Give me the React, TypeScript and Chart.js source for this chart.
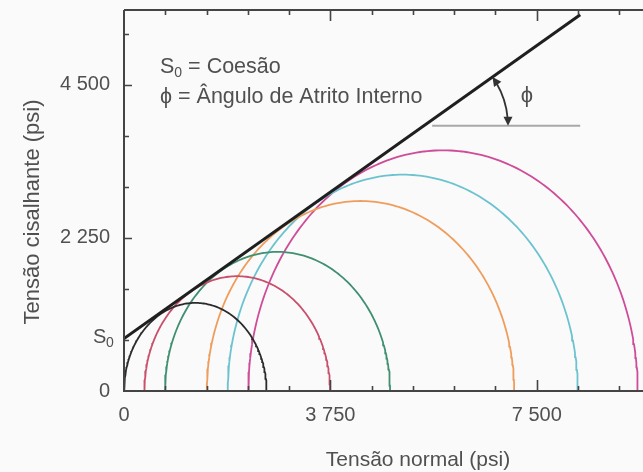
import React, { useEffect, useRef } from "react";
import { Chart, registerables } from "chart.js";

Chart.register(...registerables);

// ---- data (psi) ----
const xTickValues = [0, 3750, 7500];
const yTickValues = [0, 2250, 4500];
const minorTickStep = 750;
const xMax = 9431;
const yMax = 5600;

// Mohr circles: minimum and maximum principal stresses
const sigma3 = [0, 370, 745, 1505, 1885, 2260];
const sigma1 = [2590, 3745, 4835, 7090, 8245, 9335];
const circleColors = ["#2b2b2b", "#c9506c", "#3f8f70", "#ef9d5c", "#6cc3cf", "#cf4c98"];

// Failure envelope
const cohesion = 770;
const envelopeEnd = { x: 8290, y: 5530 };
// Horizontal reference line for the friction angle
const frictionRefY = 3900;
const frictionRefX = [5600, 8290];

const FONT = '"Liberation Sans", Arial, Helvetica, sans-serif';
const TEXT = "#505050";
const PHI = "ϕ";

function fmt(v: number): string {
  if (v >= 1000) {
    const th = Math.floor(v / 1000);
    const rest = String(v % 1000).padStart(3, "0");
    return `${th} ${rest}`;
  }
  return String(v);
}

function circlePoints(s3: number, s1: number) {
  const c = (s1 + s3) / 2;
  const r = (s1 - s3) / 2;
  const pts: { x: number; y: number }[] = [];
  const n = 160;
  for (let i = 0; i <= n; i++) {
    const t = (Math.PI * i) / n;
    pts.push({ x: c + r * Math.cos(t), y: r * Math.sin(t) });
  }
  return pts;
}

const decor = {
  id: "decor",
  beforeDraw(chart: any) {
    const { ctx, width, height } = chart;
    ctx.save();
    ctx.fillStyle = "#fafafa";
    ctx.fillRect(0, 0, width, height);
    ctx.restore();
  },
  afterDraw(chart: any) {
    const { ctx, chartArea: a, scales } = chart;
    const xs = scales.x;
    const ys = scales.y;
    ctx.save();
    // axis lines
    ctx.strokeStyle = "#444";
    ctx.lineWidth = 2;
    ctx.beginPath();
    ctx.moveTo(a.left, a.top);
    ctx.lineTo(a.left, a.bottom);
    ctx.lineTo(a.right, a.bottom);
    ctx.moveTo(a.left, a.top);
    ctx.lineTo(a.right, a.top);
    ctx.stroke();

    // tick marks
    ctx.lineWidth = 1.6;
    ctx.beginPath();
    for (let v = minorTickStep; v <= xMax; v += minorTickStep) {
      const px = Math.round(xs.getPixelForValue(v)) + 0.5;
      const len = xTickValues.includes(v) ? 11 : 5;
      ctx.moveTo(px, a.bottom);
      ctx.lineTo(px, a.bottom - len);
      ctx.moveTo(px, a.top);
      ctx.lineTo(px, a.top + len);
    }
    for (let v = minorTickStep; v <= yMax; v += minorTickStep) {
      const py = Math.round(ys.getPixelForValue(v)) + 0.5;
      const len = yTickValues.includes(v) ? 8 : 5;
      ctx.moveTo(a.left, py);
      ctx.lineTo(a.left + len, py);
    }
    ctx.stroke();

    // S0 tick label
    ctx.fillStyle = TEXT;
    ctx.textBaseline = "middle";
    ctx.textAlign = "left";
    const s0y = ys.getPixelForValue(cohesion);
    ctx.font = `20px ${FONT}`;
    ctx.fillText("S", 93, s0y - 1);
    ctx.font = `14px ${FONT}`;
    ctx.fillText("0", 106, s0y + 5);

    // legend annotation
    ctx.font = `21.5px ${FONT}`;
    ctx.fillText("S", 160, 67);
    const sW = ctx.measureText("S").width;
    ctx.font = `14px ${FONT}`;
    ctx.fillText("0", 160 + sW, 73);
    const zW = ctx.measureText("0").width;
    ctx.font = `21.5px ${FONT}`;
    ctx.fillText(" = Coesão", 160 + sW + zW, 67);
    ctx.fillText(`${PHI} = Ângulo de Atrito Interno`, 160, 97);

    // friction angle arc with arrows
    const slope = (envelopeEnd.y - cohesion) / envelopeEnd.x;
    const vx = (frictionRefY - cohesion) / slope;
    const cx = xs.getPixelForValue(vx);
    const cy = ys.getPixelForValue(frictionRefY);
    const p0x = xs.getPixelForValue(0), p0y = ys.getPixelForValue(cohesion);
    const p1x = xs.getPixelForValue(envelopeEnd.x), p1y = ys.getPixelForValue(envelopeEnd.y);
    const ang = Math.atan2(p1y - p0y, p1x - p0x); // negative
    const R = 84;
    const headL = 9;
    const dA = headL / R;
    ctx.strokeStyle = "#333";
    ctx.fillStyle = "#333";
    ctx.lineWidth = 1.8;
    ctx.beginPath();
    ctx.arc(cx, cy, R, ang + dA * 0.8, -dA * 0.8, false);
    ctx.stroke();
    const head = (theta: number, dirSign: number) => {
      const tx = cx + R * Math.cos(theta);
      const ty = cy + R * Math.sin(theta);
      const dx = -Math.sin(theta) * dirSign;
      const dy = Math.cos(theta) * dirSign;
      const bx = tx - dx * headL;
      const by = ty - dy * headL;
      ctx.beginPath();
      ctx.moveTo(tx, ty);
      ctx.lineTo(bx - dy * 4.5, by + dx * 4.5);
      ctx.lineTo(bx + dy * 4.5, by - dx * 4.5);
      ctx.closePath();
      ctx.fill();
    };
    head(0, 1);
    head(ang, -1);

    ctx.fillStyle = TEXT;
    ctx.font = `22px ${FONT}`;
    ctx.textAlign = "center";
    ctx.fillText(PHI, 527, 96);

    // axis titles
    ctx.font = `21px ${FONT}`;
    ctx.fillText("Tensão normal (psi)", 418, 460);
    ctx.save();
    ctx.translate(33, 212);
    ctx.rotate(-Math.PI / 2);
    ctx.font = `22px ${FONT}`;
    ctx.fillText("Tensão cisalhante (psi)", 0, 0);
    ctx.restore();

    ctx.restore();
  },
};

export default function App() {
  const ref = useRef<HTMLCanvasElement | null>(null);
  useEffect(() => {
    document.body.style.margin = "0";
    const canvas = ref.current;
    if (!canvas) return;
    const datasets: any[] = [
      {
        data: [
          { x: 0, y: cohesion },
          { x: envelopeEnd.x, y: envelopeEnd.y },
        ],
        borderColor: "#1f1f1f",
        borderWidth: 3,
        showLine: true,
        pointRadius: 0,
      },
      {
        data: [
          { x: frictionRefX[0], y: frictionRefY },
          { x: frictionRefX[1], y: frictionRefY },
        ],
        borderColor: "#a8a8a8",
        borderWidth: 2,
        showLine: true,
        pointRadius: 0,
      },
    ];
    sigma3.forEach((s3, i) => {
      datasets.push({
        data: circlePoints(s3, sigma1[i]),
        borderColor: circleColors[i],
        borderWidth: 1.8,
        showLine: true,
        pointRadius: 0,
        tension: 0,
      });
    });
    const chart = new Chart(canvas, {
      type: "scatter",
      data: { datasets },
      plugins: [decor],
      options: {
        animation: false,
        responsive: false,
        maintainAspectRatio: false,
        layout: { padding: { top: 10, left: 0, right: 0, bottom: 0 } },
        plugins: { legend: { display: false }, tooltip: { enabled: false } },
        scales: {
          x: {
            type: "linear",
            min: 0,
            max: xMax,
            border: { display: false },
            grid: { display: false, drawTicks: false },
            afterBuildTicks: (s: any) => {
              s.ticks = xTickValues.map((v) => ({ value: v }));
            },
            afterFit: (s: any) => {
              s.height = 81;
              s.paddingLeft = 0;
              s.paddingRight = 0;
            },
            ticks: {
              autoSkip: false,
              maxRotation: 0,
              padding: 12,
              color: TEXT,
              font: { family: FONT, size: 20 },
              callback: (v: any) => fmt(Number(v)),
            },
          },
          y: {
            type: "linear",
            min: 0,
            max: yMax,
            border: { display: false },
            grid: { display: false, drawTicks: false },
            afterBuildTicks: (s: any) => {
              s.ticks = yTickValues.map((v) => ({ value: v }));
            },
            afterFit: (s: any) => {
              s.width = 124;
              s.paddingTop = 0;
              s.paddingBottom = 0;
            },
            ticks: {
              autoSkip: false,
              padding: 14,
              color: TEXT,
              font: { family: FONT, size: 20 },
              callback: (v: any) => fmt(Number(v)),
            },
          },
        },
      },
    });
    return () => chart.destroy();
  }, []);
  return (
    <div style={{ width: 643, height: 472 }}>
      <canvas ref={ref} width={643} height={472} style={{ display: "block" }} />
    </div>
  );
}
